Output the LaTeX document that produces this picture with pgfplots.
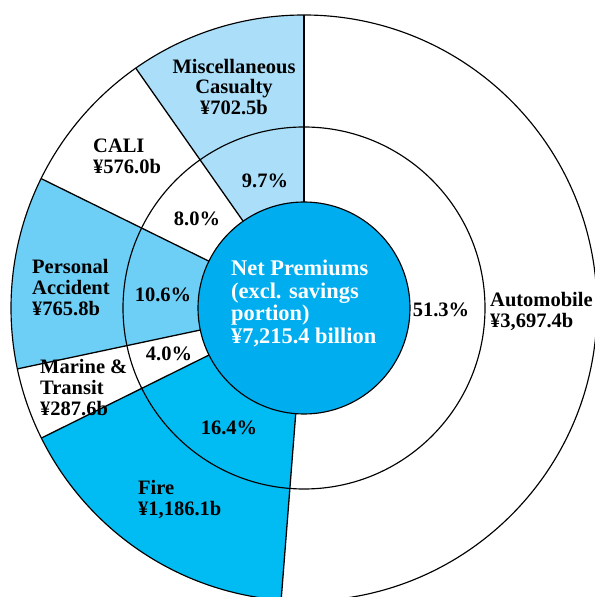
\documentclass[border=0pt]{standalone}
\usepackage{pgfplots}
\pgfplotsset{compat=1.18}
\usepackage{pgfplotstable}
\usepackage{fontspec}
\setmainfont{Liberation Serif}
\definecolor{cFire}{HTML}{00BCF2}
\definecolor{cCenter}{HTML}{00AEEF}
\definecolor{cPA}{HTML}{6DCFF6}
\definecolor{cMisc}{HTML}{ABDFF9}
\newcommand\lbl{\fontsize{20.5bp}{20.8bp}\selectfont\bfseries}
\newcommand\clbl{\fontsize{22.4bp}{22.6bp}\selectfont\bfseries}

% Net premiums (excl. savings portion), billion yen; share in percent
\pgfplotstableread[col sep=comma]{
name,value,pct,col
Automobile,3697.4,51.3,white
Fire,1186.1,16.4,cFire
Marine,287.6,4.0,white
PA,765.8,10.6,cPA
CALI,576.0,8.0,white
Misc,702.5,9.7,cMisc
}\premiums
\def\total{7215.4}

\begin{document}
\begin{tikzpicture}
\begin{axis}[
  width=595bp, height=597bp, scale only axis,
  xmin=-304, xmax=291, ymin=-289, ymax=308,
  hide axis, clip=true,
]
\pgfplotsextra{%
  \pgfplotstablegetrowsof{\premiums}%
  \pgfmathtruncatemacro\lastrow{\pgfplotsretval-1}%
  \gdef\startang{90}%
  \foreach \i in {0,...,\lastrow}{%
    \pgfplotstablegetelem{\i}{value}\of\premiums \let\wval\pgfplotsretval
    \pgfplotstablegetelem{\i}{col}\of\premiums \let\wcol\pgfplotsretval
    \pgfmathsetmacro\endang{\startang-(\wval/\total)*360}%
    \fill[fill=\wcol] (axis cs:0,0) -- ++(\startang:293bp)
       arc[start angle=\startang, end angle=\endang, radius=293bp] -- cycle;
    \xdef\startang{\endang}%
  }%
  \draw[line width=1.15bp] (axis cs:0,0) circle[radius=293bp];
  \draw[line width=1.15bp] (axis cs:0,0) circle[radius=181bp];
  \gdef\startang{90}%
  \foreach \i in {0,...,\lastrow}{%
    \pgfplotstablegetelem{\i}{value}\of\premiums \let\wval\pgfplotsretval
    \draw[line width=1.3bp] (axis cs:0,0) ++(\startang:106bp) -- ++(\startang:187bp);
    \pgfmathsetmacro\endang{\startang-(\wval/\total)*360}%
    \xdef\startang{\endang}%
  }%
  \fill[cCenter] (axis cs:0,0) circle[radius=106bp];
  \draw[line width=1.15bp] (axis cs:0,0) circle[radius=106bp];
}
% centre
\node[anchor=north west, inner sep=0pt, align=left, text=white, font=\clbl]
  at (axis cs:-73,48) {Net Premiums\\(excl. savings\\portion)\\¥7,215.4 billion};
% outer labels
\node[anchor=center, inner sep=0pt, align=center, font=\lbl]
  at (axis cs:-70,221) {Miscellaneous\\Casualty\\¥702.5b};
\node[anchor=north west, inner sep=0pt, align=left, font=\lbl]
  at (axis cs:-211,169) {CALI\\¥576.0b};
\node[anchor=north west, inner sep=0pt, align=left, font=\lbl]
  at (axis cs:-272,49) {Personal\\Accident\\¥765.8b};
\node[anchor=north west, inner sep=0pt, align=left, font=\lbl]
  at (axis cs:-264,-51) {Marine \&\\Transit\\¥287.6b};
\node[anchor=north west, inner sep=0pt, align=left, font=\lbl]
  at (axis cs:-166,-172) {Fire\\¥1,186.1b};
\node[anchor=north west, inner sep=0pt, align=left, font=\lbl]
  at (axis cs:186,16) {Automobile\\¥3,697.4b};
% shares
\node[font=\lbl, inner sep=0pt] at (axis cs:137,-2) {51.3\%};
\node[font=\lbl, inner sep=0pt] at (axis cs:-75,-120) {16.4\%};
\node[font=\lbl, inner sep=0pt] at (axis cs:-135,-46) {4.0\%};
\node[font=\lbl, inner sep=0pt] at (axis cs:-141,13) {10.6\%};
\node[font=\lbl, inner sep=0pt] at (axis cs:-107,89) {8.0\%};
\node[font=\lbl, inner sep=0pt] at (axis cs:-39,127) {9.7\%};
\coordinate (bl) at (axis cs:-304,-289);
\coordinate (tr) at (axis cs:291,308);
\end{axis}
\pgfresetboundingbox
\useasboundingbox (bl) rectangle (tr);
\end{tikzpicture}
\end{document}
